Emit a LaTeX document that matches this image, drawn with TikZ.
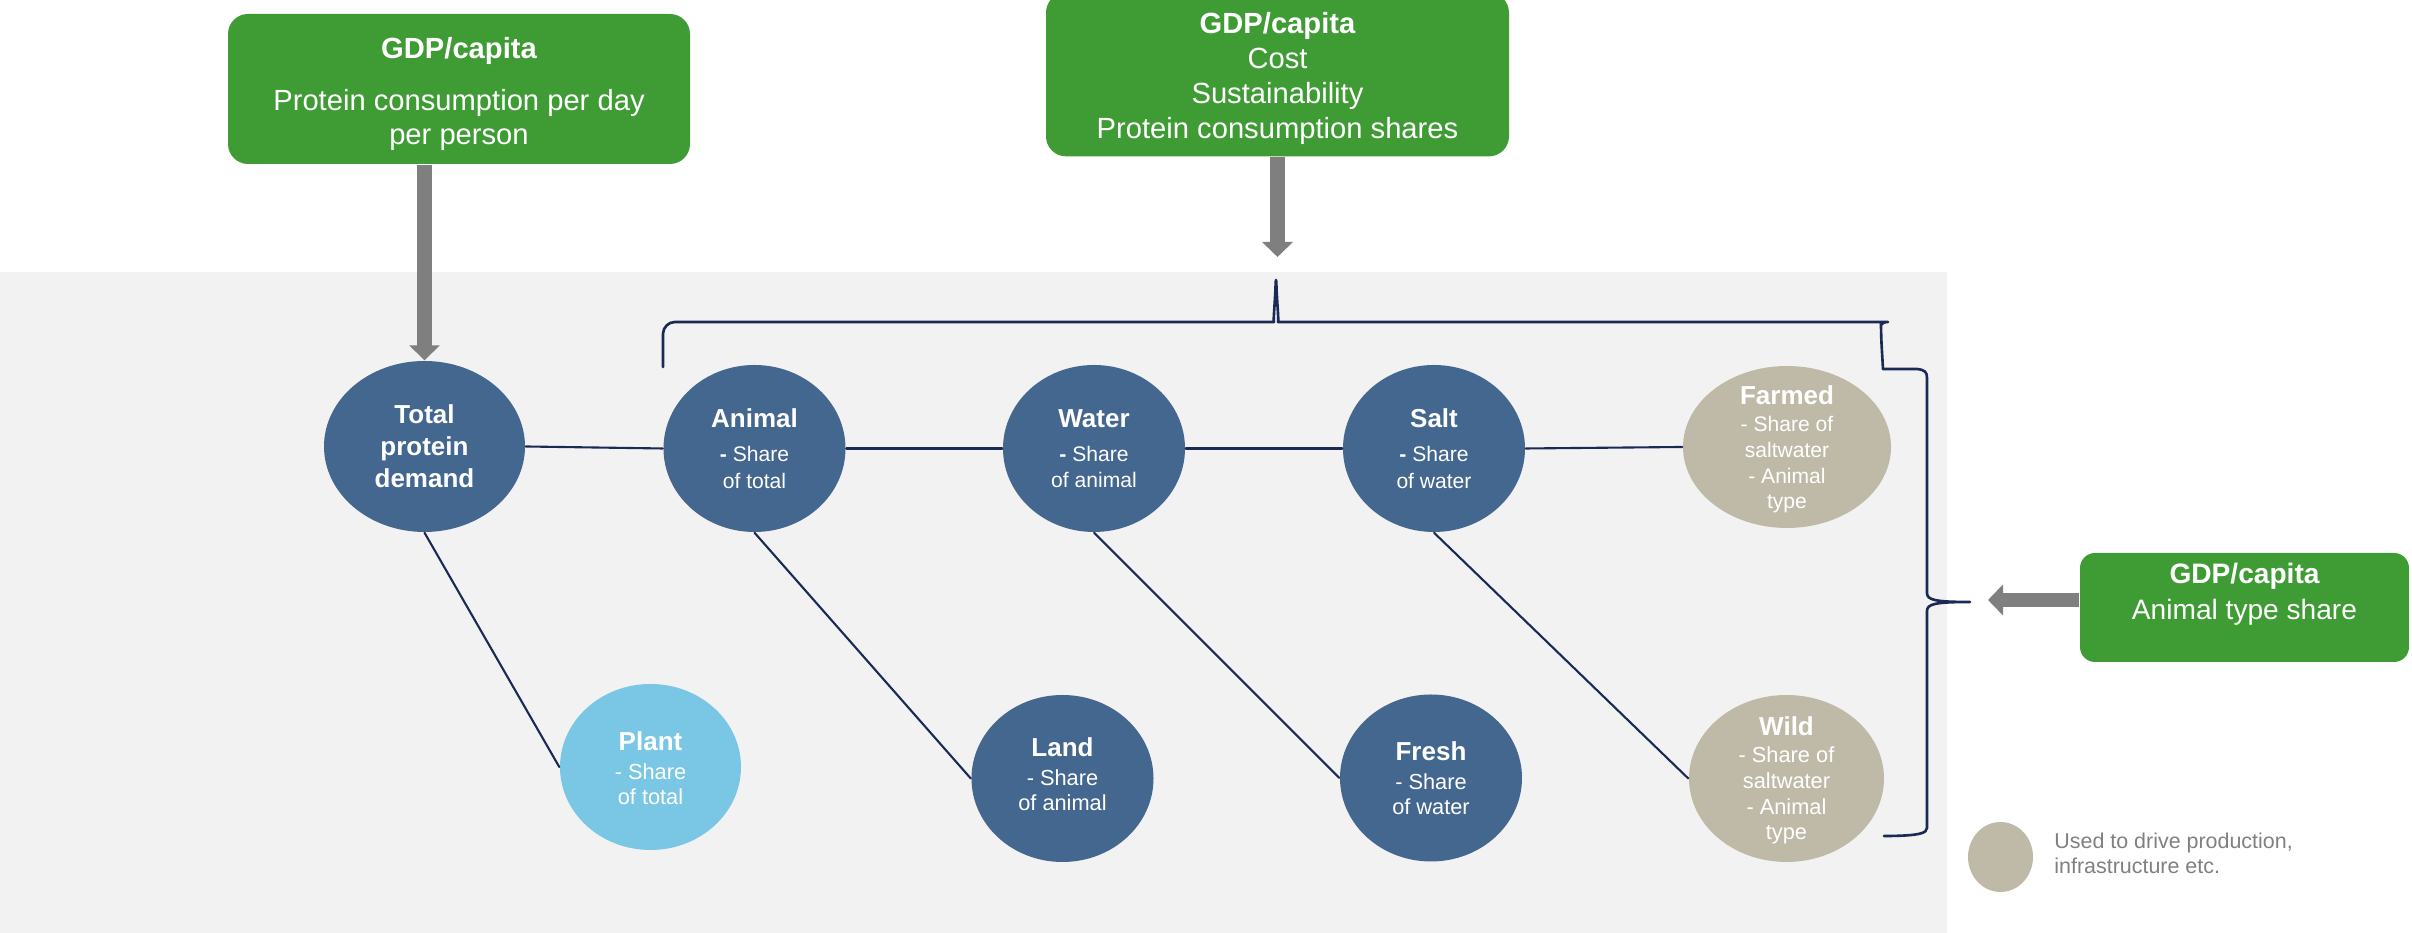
\documentclass[tikz,border=0pt]{standalone}
\usepackage{fontspec}
\setmainfont{Liberation Sans}
\usetikzlibrary{shapes.geometric,arrows.meta,positioning}
\definecolor{nodeblue}{RGB}{68,103,143}
\definecolor{plantblue}{RGB}{122,199,229}
\definecolor{sand}{RGB}{191,186,168}
\definecolor{boxgreen}{RGB}{63,156,53}
\definecolor{paleback}{RGB}{242,242,242}
\definecolor{linenavy}{RGB}{27,42,85}
\definecolor{arrowgray}{RGB}{127,127,127}
\definecolor{keygray}{RGB}{128,128,128}
\newcommand\blobtitle[1]{{\fontsize{7.4}{7.4}\selectfont\bfseries #1}}
\begin{document}
\begin{tikzpicture}[line join=round,line cap=round,
	gbox/.style={fill=boxgreen,rounded corners=0.2cm,text=white,align=center,font=\fontsize{8.3}{9.8}\selectfont},
	blob/.style={ellipse,fill=nodeblue,text=white,align=center,inner sep=-4pt,minimum width=1.82cm,minimum height=1.67cm,font=\fontsize{6}{7.5}\selectfont},
	link/.style={draw=linenavy,line width=0.6pt},
	brace/.style={draw=linenavy,line width=0.75pt},
	fat/.style={draw=arrowgray,line width=0.145cm,line cap=butt,-{Triangle[length=0.15cm,width=0.30cm]}}]
	\useasboundingbox (0,0) rectangle (24.12,9.33);
	\fill[paleback] (0,0) rectangle (19.47,6.61);
	\node[gbox,minimum width=4.62cm,minimum height=1.50cm] (gdpA) at (4.59,8.44) {\rule{0pt}{9pt}{\bfseries GDP/capita}\\[4.8pt]Protein consumption per day\\per person};
	\node[gbox,minimum width=4.63cm,minimum height=1.47cm,font=\fontsize{8.3}{10}\selectfont] (gdpB) at (12.775,8.585) {\rule{0pt}{8.2pt}{\bfseries GDP/capita}\\Cost\\Sustainability\\Protein consumption shares};
	\node[gbox,rounded corners=0.15cm,minimum width=3.29cm,minimum height=1.09cm] (gdpC) at (22.445,3.255) {};
	\node[text=white,align=center,font=\fontsize{8}{10.2}\selectfont] (gdpCt) at (22.445,3.39) {{\bfseries GDP/capita}\\Animal type share};
	\node[blob,font=\fontsize{7.4}{9.1}\selectfont\bfseries,minimum width=2.01cm,minimum height=1.71cm] (tot) at (4.245,4.865) {Total\\protein\\demand};
	\node[blob] (anim) at (7.545,4.845) {\blobtitle{Animal}\\[2.2pt]{\bfseries -} Share\\of total};
	\node[blob] (water) at (10.94,4.845) {\blobtitle{Water}\\[2.2pt]{\bfseries -} Share\\of animal};
	\node[blob] (salt) at (14.34,4.845) {\blobtitle{Salt}\\[2.2pt]{\bfseries -} Share\\of water};
	\node[blob,fill=sand,minimum width=2.08cm,minimum height=1.62cm,font=\fontsize{6}{7.3}\selectfont] (farm) at (17.87,4.86) {\rule{0pt}{6.6pt}\blobtitle{Farmed}\\[0.6pt]- Share of\\saltwater\\- Animal\\type};
	\node[blob,fill=plantblue,minimum width=1.81cm,minimum height=1.66cm,font=\fontsize{6.2}{7.1}\selectfont] (plant) at (6.505,1.66) {\rule{0pt}{6pt}\blobtitle{Plant}\\[1pt]- Share\\of total};
	\node[blob,font=\fontsize{6.2}{7.1}\selectfont] (land) at (10.625,1.545) {\blobtitle{Land}\\[1pt]- Share\\of animal\rule[-2.4pt]{0pt}{0pt}};
	\node[blob,font=\fontsize{6.2}{7.1}\selectfont] (fresh) at (14.31,1.55) {\blobtitle{Fresh}\\[1pt]- Share\\of water};
	\node[blob,fill=sand,minimum width=1.95cm,font=\fontsize{6.2}{7.3}\selectfont] (wild) at (17.865,1.545) {\rule{0pt}{6.6pt}\blobtitle{Wild}\\[0.4pt]- Share of\\saltwater\\- Animal\\type};
	\draw[link] (tot.east) -- (anim.west);
	\draw[link] (anim.east) -- (water.west);
	\draw[link] (water.east) -- (salt.west);
	\draw[link] (salt.east) -- (farm.west);
	\draw[link] (tot.south) -- (plant.west);
	\draw[link] (anim.south) -- (land.west);
	\draw[link] (water.south) -- (fresh.west);
	\draw[link] (salt.south) -- (wild.west);
	\draw[brace,rounded corners=0.12cm] (6.63,5.66) |- (12.62,6.11) .. controls (12.73,6.11) and (12.75,6.3) .. (12.76,6.6) .. controls (12.77,6.3) and (12.79,6.11) .. (12.9,6.11) -- (18.76,6.11) .. controls (18.80,6.11) and (18.81,6.05) .. (18.81,5.98) -- (18.83,5.64);
	\draw[brace] (18.83,5.64) -- (19.17,5.64) .. controls (19.25,5.63) and (19.27,5.61) .. (19.27,5.55) -- (19.27,3.40) .. controls (19.27,3.33) and (19.35,3.31) .. (19.70,3.31) .. controls (19.35,3.31) and (19.27,3.29) .. (19.27,3.22) -- (19.27,1.05) .. controls (19.27,1.0) and (19.2,0.97) .. (18.84,0.97);
	\coordinate (tipB) at (12.775,6.76);
	\coordinate (tipC) at (19.88,3.33);
	\draw[fat] (tot.north |- gdpA.south) -- (tot.north);
	\draw[fat] (gdpB.south) -- (tipB);
	\draw[fat] (gdpC.west |- tipC) -- (tipC);
	\node[ellipse,fill=sand,minimum width=0.65cm,minimum height=0.70cm,inner sep=0] (key) at (20.005,0.76) {};
	\node[right=0.2cm of key,yshift=0.04cm,inner sep=0,align=left,text=keygray,font=\fontsize{6.1}{7.1}\selectfont] (keytxt) {Used to drive production,\\infrastructure etc.};
\end{tikzpicture}
\end{document}
